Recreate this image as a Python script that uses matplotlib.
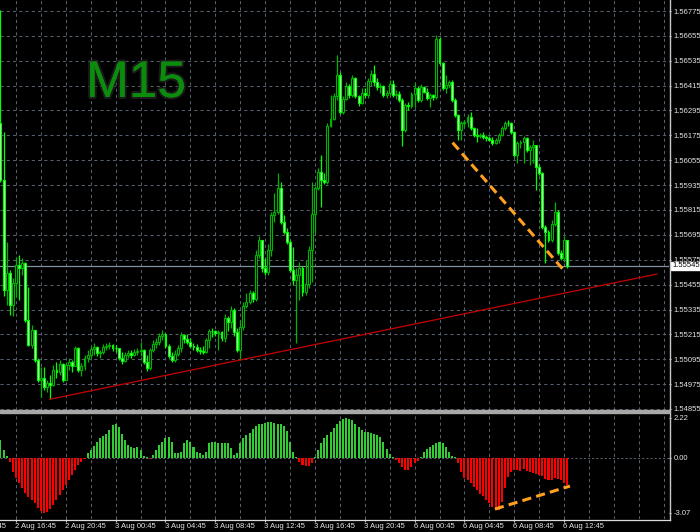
import numpy as np
import matplotlib
matplotlib.use("Agg")
import matplotlib.pyplot as plt
import matplotlib.transforms as mtransforms
import matplotlib.patheffects as pe
from matplotlib.patches import Rectangle
from matplotlib.lines import Line2D

plt.rcParams['font.family'] = ['Liberation Sans', 'DejaVu Sans']

# ---------------- data: GBPUSD M15 ----------------
# bars are numbered relative to the 2 Aug 16:45 candle
first_bar = -5
first_open = 1.56235

closes = np.array([
    1.55960, 1.55429, 1.55511, 1.55357, 1.55463,
    1.55550, 1.55535, 1.55559, 1.55284, 1.55164, 1.55236, 1.55091, 1.54995, 1.55005, 1.54961,
    1.54980, 1.54971, 1.55043, 1.55033, 1.55072, 1.54995, 1.55067, 1.55082, 1.55062, 1.55149,
    1.55043, 1.55062, 1.55101, 1.55115, 1.55144, 1.55154, 1.55125, 1.55130, 1.55154, 1.55159,
    1.55164, 1.55149, 1.55149, 1.55101, 1.55087, 1.55115, 1.55125, 1.55115, 1.55130, 1.55135,
    1.55140, 1.55082, 1.55053, 1.55140, 1.55169, 1.55178, 1.55207, 1.55217, 1.55159, 1.55111,
    1.55091, 1.55120, 1.55149, 1.55212, 1.55193, 1.55178, 1.55159, 1.55154, 1.55140, 1.55135,
    1.55130, 1.55188, 1.55231, 1.55231, 1.55222, 1.55226, 1.55197, 1.55294, 1.55275, 1.55333,
    1.55226, 1.55140, 1.55251, 1.55352, 1.55371, 1.55415, 1.55386, 1.55598, 1.55670, 1.55535,
    1.55516, 1.55622, 1.55791, 1.55805, 1.55921, 1.55757, 1.55709, 1.55661, 1.55526, 1.55477,
    1.55501, 1.55535, 1.55419, 1.55458, 1.55622, 1.55796, 1.55921, 1.55998, 1.55960, 1.55950,
    1.56220, 1.56254, 1.56365, 1.56466, 1.56288, 1.56350, 1.56413, 1.56370, 1.56452, 1.56365,
    1.56331, 1.56379, 1.56370, 1.56437, 1.56471, 1.56432, 1.56408, 1.56413, 1.56370, 1.56379,
    1.56423, 1.56370, 1.56375, 1.56346, 1.56201, 1.56321, 1.56317, 1.56375, 1.56403, 1.56346,
    1.56408, 1.56384, 1.56355, 1.56370, 1.56360, 1.56640, 1.56524, 1.56403, 1.56418, 1.56432,
    1.56346, 1.56273, 1.56201, 1.56235, 1.56239, 1.56264, 1.56211, 1.56177, 1.56172, 1.56177,
    1.56167, 1.56162,
    1.56153, 1.56138, 1.56153, 1.56177, 1.56211, 1.56235, 1.56235, 1.56191, 1.56080, 1.56138,
    1.56143, 1.56162, 1.56104, 1.56119, 1.56129, 1.56022, 1.55993, 1.55733, 1.55709, 1.55670,
    1.55747, 1.55805, 1.55608, 1.55583, 1.55670, 1.55545,
])

highs = np.array([
    1.56780, 1.56191, 1.55661, 1.55526, 1.55487,
    1.55588, 1.55598, 1.55583, 1.55564, 1.55444, 1.55260, 1.55236, 1.55101, 1.55058, 1.55058,
    1.54995, 1.55019, 1.55067, 1.55082, 1.55091, 1.55077, 1.55082, 1.55101, 1.55091, 1.55159,
    1.55154, 1.55077, 1.55115, 1.55140, 1.55159, 1.55173, 1.55159, 1.55140, 1.55169, 1.55173,
    1.55178, 1.55169, 1.55164, 1.55149, 1.55130, 1.55130, 1.55140, 1.55140, 1.55144, 1.55149,
    1.55178, 1.55144, 1.55115, 1.55149, 1.55188, 1.55197, 1.55222, 1.55236, 1.55222, 1.55169,
    1.55130, 1.55140, 1.55164, 1.55226, 1.55217, 1.55217, 1.55197, 1.55173, 1.55169, 1.55154,
    1.55159, 1.55197, 1.55241, 1.55246, 1.55236, 1.55236, 1.55231, 1.55313, 1.55304, 1.55352,
    1.55342, 1.55246, 1.55284, 1.55371, 1.55415, 1.55429, 1.55424, 1.55622, 1.55690, 1.55670,
    1.55583, 1.55651, 1.55805, 1.55897, 1.55993, 1.55950, 1.55791, 1.55728, 1.55670, 1.55636,
    1.55535, 1.55564, 1.55545, 1.55574, 1.55641, 1.55950, 1.55931, 1.56018, 1.56080, 1.55993,
    1.56235, 1.56370, 1.56379, 1.56563, 1.56481, 1.56365, 1.56432, 1.56423, 1.56466, 1.56457,
    1.56370, 1.56403, 1.56403, 1.56452, 1.56490, 1.56514, 1.56452, 1.56428, 1.56418, 1.56394,
    1.56442, 1.56442, 1.56394, 1.56389, 1.56355, 1.56331, 1.56336, 1.56384, 1.56432, 1.56413,
    1.56423, 1.56413, 1.56403, 1.56379, 1.56375, 1.56659, 1.56650, 1.56529, 1.56466, 1.56442,
    1.56442, 1.56355, 1.56278, 1.56244, 1.56249, 1.56278, 1.56288, 1.56215, 1.56211, 1.56186,
    1.56191, 1.56177,
    1.56172, 1.56167, 1.56162, 1.56186, 1.56220, 1.56244, 1.56249, 1.56239, 1.56196, 1.56148,
    1.56153, 1.56172, 1.56167, 1.56129, 1.56153, 1.56124, 1.56037, 1.55998, 1.55743, 1.55718,
    1.55767, 1.55854, 1.55815, 1.55622, 1.55690, 1.55670,
])

lows = np.array([
    1.55950, 1.55400, 1.55357, 1.55308, 1.55304,
    1.55395, 1.55381, 1.55501, 1.55275, 1.55159, 1.55149, 1.55082, 1.54985, 1.54913, 1.54947,
    1.54937, 1.54903, 1.54966, 1.55005, 1.55019, 1.54985, 1.55014, 1.55043, 1.55033, 1.55062,
    1.55033, 1.55014, 1.55043, 1.55082, 1.55101, 1.55115, 1.55111, 1.55101, 1.55120, 1.55140,
    1.55144, 1.55135, 1.55130, 1.55091, 1.55072, 1.55082, 1.55101, 1.55101, 1.55111, 1.55115,
    1.55111, 1.55072, 1.55038, 1.55043, 1.55130, 1.55149, 1.55164, 1.55188, 1.55149, 1.55101,
    1.55082, 1.55082, 1.55111, 1.55130, 1.55173, 1.55169, 1.55149, 1.55140, 1.55130, 1.55120,
    1.55120, 1.55125, 1.55149, 1.55202, 1.55207, 1.55140, 1.55183, 1.55178, 1.55231, 1.55246,
    1.55207, 1.55130, 1.55091, 1.55236, 1.55342, 1.55362, 1.55371, 1.55376, 1.55583, 1.55516,
    1.55501, 1.55501, 1.55593, 1.55757, 1.55796, 1.55747, 1.55699, 1.55651, 1.55516, 1.55453,
    1.55173, 1.55381, 1.55400, 1.55405, 1.55439, 1.55468, 1.55704, 1.55911, 1.55829, 1.55940,
    1.55940, 1.56215, 1.56249, 1.56346, 1.56278, 1.56278, 1.56346, 1.56355, 1.56360, 1.56355,
    1.56317, 1.56326, 1.56355, 1.56355, 1.56413, 1.56413, 1.56394, 1.56379, 1.56360, 1.56355,
    1.56370, 1.56360, 1.56350, 1.56336, 1.56124, 1.56191, 1.56297, 1.56307, 1.56312, 1.56336,
    1.56336, 1.56379, 1.56346, 1.56312, 1.56346, 1.56350, 1.56514, 1.56394, 1.56379, 1.56403,
    1.56336, 1.56264, 1.56153, 1.56153, 1.56215, 1.56215, 1.56201, 1.56167, 1.56143, 1.56162,
    1.56157, 1.56148,
    1.56148, 1.56129, 1.56133, 1.56138, 1.56172, 1.56201, 1.56220, 1.56182, 1.56071, 1.56042,
    1.56114, 1.56042, 1.56095, 1.56032, 1.56042, 1.55911, 1.55984, 1.55723, 1.55559, 1.55661,
    1.55661, 1.55738, 1.55598, 1.55574, 1.55564, 1.55535,
])

# oscillator histogram (one value per bar)
osc = np.array([
    1.00, 0.45, 0.12, -0.22, -0.78,
    -1.15, -1.43, -1.71, -1.98, -2.17, -2.36, -2.54, -2.82, -2.95, -3.07,
    -3.05, -2.88, -2.63, -2.36, -2.08, -1.80, -1.52, -1.24, -0.96, -0.69,
    -0.41, -0.22, -0.09, 0.24, 0.43, 0.65, 0.89, 1.08, 1.21, 1.32,
    1.55, 1.80, 1.90, 1.70, 1.30, 0.98, 0.70, 0.61, 0.52, 0.61,
    0.43, 0.09, 0.06, -0.05, 0.15, 0.43, 0.70, 0.89, 1.08, 1.17,
    0.89, 0.24, 0.24, 0.33, 0.80, 0.98, 0.89, 0.61, 0.33, 0.24,
    0.15, 0.33, 0.80, 0.89, 0.89, 0.83, 0.80, 0.80, 0.80, 0.52,
    0.15, 0.24, 0.80, 1.08, 1.26, 1.35, 1.60, 1.75, 1.85, 1.90,
    1.95, 2.00, 2.00, 1.95, 1.90, 1.85, 1.75, 1.50, 0.89, 0.33,
    0.06, -0.22, -0.41, -0.46, -0.46, -0.32, 0.06, 0.43, 0.80, 1.08,
    1.26, 1.45, 1.65, 1.85, 2.05, 2.15, 2.22, 2.18, 2.08, 1.90,
    1.70, 1.52, 1.45, 1.42, 1.36, 1.33, 1.28, 1.17, 0.90, 0.50,
    0.20, 0.06, -0.13, -0.32, -0.50, -0.69, -0.69, -0.54, -0.32, -0.19,
    0.06, 0.33, 0.50, 0.61, 0.70, 0.80, 0.89, 0.80, 0.62, 0.30,
    0.10, 0.05, -0.32, -0.78, -1.15, -1.24, -1.43, -1.61, -1.80, -2.00,
    -2.15, -2.35, -2.55, -2.72, -2.85, -2.92, -2.45, -1.71, -1.06, -0.78,
    -0.69, -0.69, -0.72, -0.65, -0.72, -0.80, -0.86, -0.90, -0.95, -1.04,
    -1.20, -1.24, -1.24, -1.15, -1.21, -1.24, -1.42, -1.52,
])

price_ticks = [1.54855, 1.54975, 1.55095, 1.55215, 1.55335, 1.55455, 1.55575,
               1.55695, 1.55815, 1.55935, 1.56055, 1.56175, 1.56295, 1.56415,
               1.56535, 1.56655, 1.56775]
osc_ticks = [2.22, 0.00, -3.07]
time_labels = ["2 Aug 12:45", "2 Aug 16:45", "2 Aug 20:45", "3 Aug 00:45",
               "3 Aug 04:45", "3 Aug 08:45", "3 Aug 12:45", "3 Aug 16:45",
               "3 Aug 20:45", "6 Aug 00:45", "6 Aug 04:45", "6 Aug 08:45",
               "6 Aug 12:45"]
label_first_bar = -16
label_step = 16          # 4 hours of 15-minute bars
grid_step = 8
last_price = 1.55545

support_x, support_y = [10.9, 205.8], [1.54902, 1.55506]
down_x, down_y = [140.2, 176.0], [1.56140, 1.55523]
osc_x, osc_y = [153.8, 177.9], [-2.86, -1.58]

# ---------------- layout ----------------
W, H = 700, 532
PLOT_R = 669            # right edge of the plotting area (px)
MAIN_B = 410            # bottom of the price pane (px)
OSC_T, OSC_B = 413, 519  # indicator pane (px)
BAR_PX = 3.114          # horizontal pixels per bar
X0_PX = 16              # pixel column of bar 0

BG = 'black'
GRID = '#55606C'
TXT = '#E4E4E4'
AXC = '#C8C8C8'
BULL = '#00B400'
BEAR = '#00FF00'
BEAR_FILL = '#C8FFC8'

fig = plt.figure(figsize=(W / 100, H / 100), dpi=100, facecolor=BG)
ax = fig.add_axes([0, 1 - MAIN_B / H, PLOT_R / W, MAIN_B / H], facecolor=BG)
ax2 = fig.add_axes([0, 1 - OSC_B / H, PLOT_R / W, (OSC_B - OSC_T) / H], facecolor=BG)

xlim = (-X0_PX / BAR_PX, (PLOT_R - X0_PX) / BAR_PX)
for a in (ax, ax2):
    a.set_xlim(*xlim)
    for s in a.spines.values():
        s.set_visible(False)

# price scale: 0.0012 per 24.875 px, 1.56775 at y=11
px_per_price = 24.875 / 0.0012
ax.set_ylim(1.56775 - (MAIN_B - 11) / px_per_price, 1.56775 + 11 / px_per_price)
# oscillator scale: zero at y=457.7, 17.96 px per unit
ax2.set_ylim(-(OSC_B - 457.7) / 17.96, (457.7 - OSC_T) / 17.96)

# grid
grid_kw = dict(color=GRID, linewidth=0.75, linestyle=(0, (3, 3)), zorder=1)
for b in np.arange(0, xlim[1], grid_step):
    ax.axvline(b, **grid_kw)
    ax2.axvline(b, **grid_kw)
for p in price_ticks:
    ax.axhline(p, **grid_kw)
ax2.axhline(0, color=GRID, linewidth=0.75, linestyle=(0, (2, 2)), zorder=1)

# candles
idx = np.arange(first_bar, first_bar + len(closes))
opens = np.concatenate([[first_open], closes[:-1]])
highs = np.maximum(highs, np.maximum(opens, closes))
lows = np.minimum(lows, np.minimum(opens, closes))
up = closes > opens
for mask, edge, fill in ((up, BULL, BG), (~up, BEAR, BEAR_FILL)):
    ax.vlines(idx[mask], lows[mask], highs[mask], colors=edge, linewidth=0.9, zorder=3)
    bottoms = np.minimum(opens, closes)[mask]
    heights = np.maximum(np.abs(closes - opens)[mask], 0.000015)
    ax.bar(idx[mask], heights, bottom=bottoms, width=0.62, facecolor=fill,
           edgecolor=edge, linewidth=0.8, zorder=4)

# trend lines
ax.plot(support_x, support_y, color='#C80000', linewidth=0.9, zorder=5)
ax.axhline(last_price, color='#8090A0', linewidth=0.9, zorder=2)
dash_kw = dict(color='#FFA01E', linewidth=2.2, dashes=(3.0, 1.7),
               dash_capstyle='butt', zorder=6)
ax.plot(down_x, down_y, **dash_kw)

# oscillator histogram
osc_idx = np.arange(first_bar, first_bar + len(osc))
ax2.bar(osc_idx, osc, width=0.65, zorder=3,
        color=np.where(osc >= 0, '#32CD32', '#FF0000'))
ax2.plot(osc_x, osc_y, **dash_kw)

# right-hand price scale
ax.yaxis.tick_right()
ax.set_yticks(price_ticks)
ax.set_yticklabels([f"{p:.5f}" for p in price_ticks])
ax.set_xticks([])
ax.tick_params(axis='y', direction='out', length=1.6, width=0.8, color=AXC,
               labelsize=5.5, labelcolor=TXT, pad=1.6)

ax2.yaxis.tick_right()
ax2.set_yticks(osc_ticks)
ax2.set_yticklabels([f"{v:.2f}" for v in osc_ticks])
ax2.tick_params(axis='y', direction='out', length=1.6, width=0.8, color=AXC,
                labelsize=5.5, labelcolor=TXT, pad=1.6)

# time axis
label_bars = [label_first_bar + label_step * k for k in range(len(time_labels))]
ax2.set_xticks([b for b in label_bars if b >= xlim[0]])
ax2.tick_params(axis='x', direction='out', length=2.2, width=0.8, color=AXC,
                labelbottom=False)
tr = mtransforms.blended_transform_factory(ax2.transData, ax2.transAxes)
for b, t in zip(label_bars, time_labels):
    ax2.text(b - 0.3, -8 / (OSC_B - OSC_T), t, transform=tr, ha='left', va='center',
             fontsize=5.5, color=TXT, clip_on=False)

# current price marker
trp = mtransforms.blended_transform_factory(ax.transAxes, ax.transData)
ax.text(672 / PLOT_R, last_price, f"{last_price:.5f}", transform=trp, ha='left',
        va='center', fontsize=5.5, color='black', zorder=10, clip_on=False,
        bbox=dict(boxstyle='square,pad=0.12', facecolor='white', edgecolor='white'))

# frame lines
fig.add_artist(Rectangle((0, 1 - OSC_T / H), PLOT_R / W, 3 / H,
                         transform=fig.transFigure, color='#A8A8A8', zorder=8))
fig.add_artist(Line2D([(PLOT_R + 0.5) / W] * 2, [1 - (OSC_B + 0.5) / H, 1],
                      transform=fig.transFigure, color=AXC, linewidth=1.0))
fig.add_artist(Line2D([0, (PLOT_R + 0.5) / W], [1 - (OSC_B + 0.5) / H] * 2,
                      transform=fig.transFigure, color='#DADADA', linewidth=0.9))

# timeframe caption with a soft dark halo
fig.text(86 / W, 1 - 97 / H, "M15", fontsize=37, color='#0C8C0C', ha='left',
         va='baseline', path_effects=[pe.withStroke(linewidth=3, foreground='#262626',
                                                    alpha=0.7),
                                      pe.Normal()])

fig.savefig("out.png", dpi=100, facecolor=BG)
